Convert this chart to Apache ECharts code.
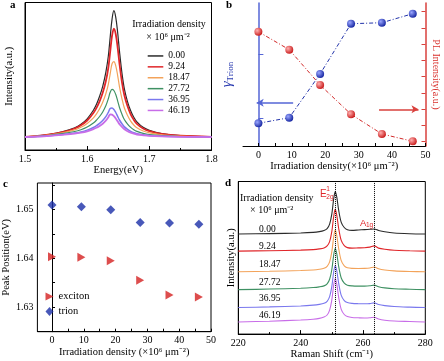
<!DOCTYPE html>
<html><head><meta charset="utf-8">
<script src="https://cdn.jsdelivr.net/npm/echarts@6/dist/echarts.min.js"></script>
<style>html,body{margin:0;padding:0;background:#fff}#c{width:444px;height:361px}</style>
</head><body><div id="c"></div>
<script>
// ---------- Panel a: PL spectra ----------
const energy = [1.50,1.52,1.54,1.56,1.58,1.59,1.60,1.61,1.615,1.62,1.625,1.63,1.634,1.637,1.640,1.643,1.646,1.649,1.652,1.656,1.66,1.665,1.67,1.675,1.68,1.69,1.70,1.72,1.75,1.80];
const densityLabels = ['0.00','9.24','18.47','27.72','36.95','46.19'];
const pl_000 = [0.5,1.5,3,5.5,9.5,13,18.5,27,33,41,51,65,81,100,118,126.6,120,105,86,64,48,35.5,26.5,20,15.5,10,7,3.8,1.8,0.6];
const pl_924 = [0.5,1.4,2.8,5.1,8.8,12,16.8,24.3,29.5,36,44.5,56,69.5,85.5,101.5,108.6,103,90,73.5,55,41.5,31,23,17.5,13.5,8.8,6.2,3.4,1.6,0.5];
const pl_1847 = [0.5,1.2,2.5,4.5,7.5,10,13.8,19.5,23.5,28.5,35,43.5,53,63.5,73.5,75.6,71.5,62,50.5,38.5,29,21.8,16.2,12.3,9.5,6.3,4.4,2.5,1.2,0.4];
const pl_2772 = [0.4,1,2,3.6,5.8,7.6,10.3,14.3,17.2,20.8,25.3,31.5,38.5,45,48,46.8,42.8,36.5,29.8,23,17.5,13.2,9.9,7.5,5.9,4,2.8,1.7,0.8,0.3];
const pl_3695 = [0.3,0.8,1.6,2.7,4.2,5.4,7.2,9.8,11.7,14,16.8,20.6,25,28.9,29.4,27.8,24.8,21,17.3,13.5,10.4,7.9,6,4.6,3.6,2.5,1.8,1.1,0.6,0.2];
const pl_4619 = [0.3,0.7,1.4,2.4,3.6,4.6,6,8.1,9.6,11.4,13.6,16.6,20,23,22.7,21.2,18.9,16,13.2,10.4,8.1,6.1,4.7,3.6,2.8,2,1.4,0.9,0.5,0.2];

// ---------- Panel b ----------
const density = [0, 9.24, 18.47, 27.72, 36.95, 46.19];
const gammaTrion = [0.917, 1.005, 1.688, 2.473, 2.489, 2.630];
const plIntensity = [7.769, 6.662, 4.489, 2.686, 1.474, 1.025];
const densityTicks = [0,10,20,30,40,50];

// ---------- Panel c ----------
const excitonPeak = [1.64034, 1.6402, 1.63952, 1.63551, 1.63245, 1.63204];
const trionPeak = [1.65095, 1.65061, 1.65, 1.64735, 1.64728, 1.64701];
const peakTicks = [1.63, 1.64, 1.65];

// ---------- Panel d: Raman spectra ----------
const raman = [220,230,240,244,246,247.5,248.5,249.3,250,250.6,251.1,251.6,252.2,253,254,255,256.5,258.5,260.5,262.2,263.6,265,267,270,275,280];
const ramanOffset = [100.7, 83.5, 62.7, 44.7, 26.7, 12.2];
const rm_000 = [0,0.4,1,1.6,2.4,3.6,5.5,10,20,35,42.6,37,24,12,6.5,4.2,3.6,4,4.4,4.7,5,3.6,2.2,1,0.3,0];
const rm_924 = [0,0.4,1,1.5,2.2,3.2,5.2,9.5,19.5,34.5,42.2,36,23,11,5.5,3.5,3,3.2,3.4,4,5.2,3,1.8,0.8,0.3,0];
const rm_1847 = [0,0.5,1.2,1.8,2.5,3.5,5.5,10,20,35,42.3,36.5,23.5,11.5,6,4,3.4,3.3,3.4,3.8,4.8,3,1.8,0.9,0.3,0];
const rm_2772 = [0,0.6,1.4,2.1,2.8,3.8,5.8,10.5,20,34.5,41.7,36,23.5,12,6.5,4.5,3.8,3.6,3.6,3.9,4.6,3,1.8,0.9,0.4,0];
const rm_3695 = [0,0.7,1.6,2.4,3.2,4.3,6.3,11,21,35.5,42.3,37,24.5,12.5,7,5,4.2,3.9,3.8,4,4.7,3,1.9,1,0.4,0];
const rm_4619 = [0,0.8,2,2.8,3.6,5,7,12,22,37,43.7,38,25,13,7.5,5.5,4.5,4.2,4,4.2,4.8,3,1.8,1,0.5,0];
const ramanPeaks = [251.1, 263.6];

const FONT = 'Liberation Serif';
const colors = ['#2b2b2b','#e0262a','#f3a35a','#3f9163','#7a78ee','#c86de8'];
const widthsA = [1.2,1.8,1.2,1.2,1.5,1.8];
const TRI_RIGHT = 'path://M0,0 L10,5 L0,10 Z';

const chart = echarts.init(document.getElementById('c'), null, {renderer:'canvas'});

function xAx(grid, min, max, extra) {
  return Object.assign({
    gridIndex: grid, type:'value', min, max,
    axisLine:{show:true, onZero:false, lineStyle:{color:'#000', width:1}},
    axisTick:{show:true, inside:true, length:4, lineStyle:{color:'#000'}},
    axisLabel:{show:true, fontFamily:FONT, fontSize:10, color:'#000', margin:4},
    splitLine:{show:false},
    nameLocation:'middle',
    nameTextStyle:{fontFamily:FONT, fontSize:10.5, color:'#000'}
  }, extra);
}

const seriesA = [pl_000, pl_924, pl_1847, pl_2772, pl_3695, pl_4619].map((arr,k)=>({
  type:'line', name: densityLabels[k], xAxisIndex:0, yAxisIndex:0,
  data: energy.map((e,i)=>[e, arr[i]]),
  smooth:0.35, showSymbol:false, symbol:'none',
  lineStyle:{color:colors[k], width:widthsA[k]}, itemStyle:{color:colors[k]}
}));

const seriesD = [rm_000, rm_924, rm_1847, rm_2772, rm_3695, rm_4619].map((arr,k)=>{
  const s = {
    type:'line', name:'d'+densityLabels[k], xAxisIndex:3, yAxisIndex:4,
    data: raman.map((r,i)=>[r, ramanOffset[k] + arr[i]]),
    smooth:0.3, showSymbol:false, symbol:'none',
    lineStyle:{color:colors[k], width:1.1}, itemStyle:{color:colors[k]}
  };
  if (k === 0) {
    s.markLine = {silent:true, symbol:'none', label:{show:false},
      lineStyle:{color:'#000', type:'dotted', width:1},
      data: ramanPeaks.map(v=>({xAxis:v}))};
  }
  return s;
});

function ball(light, dark){
  return {type:'radial', x:0.35, y:0.35, r:0.7, colorStops:[{offset:0,color:light},{offset:1,color:dark}]};
}

const option = {
  animation:false,
  backgroundColor:'#fff',
  textStyle:{fontFamily:FONT},
  grid:[
    {left:25, top:2.5, width:186.5, height:147.5, show:true, borderColor:'#000', borderWidth:1, backgroundColor:'transparent'},
    {left:243, top:3, width:182.5, height:143},
    {left:29.5, top:183, width:181.5, height:148.7, show:true, borderColor:'#000', borderWidth:1, backgroundColor:'transparent'},
    {left:238.3, top:181.5, width:187, height:153.5, show:true, borderColor:'#000', borderWidth:1, backgroundColor:'transparent'}
  ],
  xAxis:[
    xAx(0, 1.5, 1.8, {interval:0.1, minorTick:{show:true, splitNumber:2, length:2, lineStyle:{color:'#000'}},
      axisLabel:{fontFamily:FONT, fontSize:10, color:'#000', margin:4, formatter:v=>v.toFixed(1)},
      name:'Energy(eV)', nameGap:13}),
    xAx(1, -4.6, 50, {axisLabel:{fontFamily:FONT, fontSize:10, color:'#000', margin:4, customValues:densityTicks},
      axisTick:{show:true, inside:true, length:3, lineStyle:{color:'#000'}, customValues:[0,5,10,15,20,25,30,35,40,45,50]},
      name:'Irradiation density(×10⁶ μm⁻²)', nameGap:13}),
    xAx(2, -4.6, 50, {axisLabel:{fontFamily:FONT, fontSize:10, color:'#000', margin:4, customValues:densityTicks},
      axisTick:{show:true, inside:true, length:3, lineStyle:{color:'#000'}, customValues:[0,5,10,15,20,25,30,35,40,45,50]},
      name:'Irradiation density (×10⁶ μm⁻²)', nameGap:13}),
    xAx(3, 220, 280, {interval:20, minorTick:{show:true, splitNumber:2, length:2, lineStyle:{color:'#000'}},
      name:'Raman Shift (cm⁻¹)', nameGap:13})
  ],
  yAxis:[
    {gridIndex:0, type:'value', min:-12.7, max:134.8,
      axisLine:{show:true, lineStyle:{color:'#000'}}, axisTick:{show:false}, axisLabel:{show:false}, splitLine:{show:false},
      name:'Intensity(a.u.)', nameLocation:'middle', nameGap:10, nameTextStyle:{fontFamily:FONT, fontSize:10.5, color:'#000'}},
    {gridIndex:1, type:'value', position:'left', min:0.5625, max:2.797,
      axisLine:{show:true, lineStyle:{color:'#5566d6', width:1.5}},
      axisTick:{show:true, inside:true, length:5, lineStyle:{color:'#5566d6'}, customValues:[1,2]},
      axisLabel:{show:false}, splitLine:{show:false},
      name:'{g|γ}{t|Trion}', nameLocation:'middle', nameGap:8,
      nameTextStyle:{rich:{g:{fontFamily:FONT, fontSize:15, color:'#2a3bb0', fontStyle:'italic'},
                            t:{fontFamily:FONT, fontSize:9, color:'#2a3bb0', padding:[7,0,0,0]}}}},
    {gridIndex:1, type:'value', position:'right', min:0.735, max:9.535,
      axisLine:{show:true, lineStyle:{color:'#d9403c', width:1.5}},
      axisTick:{show:true, inside:true, length:4, lineStyle:{color:'#d9403c'}, customValues:[1,2,3,4,5,6,7,8,9]},
      axisLabel:{show:false}, splitLine:{show:false},
      name:'PL Intensity(a.u.)', nameLocation:'middle', nameGap:5, nameRotate:-90,
      nameTextStyle:{fontFamily:FONT, fontSize:10, color:'#d9302c'}},
    {gridIndex:2, type:'value', min:1.6249, max:1.6555,
      axisLine:{show:true, lineStyle:{color:'#000'}},
      axisTick:{show:true, inside:true, length:3, lineStyle:{color:'#000'}, customValues:[1.63,1.635,1.64,1.645,1.65,1.655]},
      axisLabel:{show:true, fontFamily:FONT, fontSize:10, color:'#000', margin:4, customValues:peakTicks, formatter:v=>v.toFixed(2)},
      splitLine:{show:false},
      name:'Peak Position(eV)', nameLocation:'middle', nameGap:19, nameTextStyle:{fontFamily:FONT, fontSize:10.5, color:'#000'}},
    {gridIndex:3, type:'value', min:0, max:153.5,
      axisLine:{show:true, lineStyle:{color:'#000'}}, axisTick:{show:false}, axisLabel:{show:false}, splitLine:{show:false},
      name:'Intensity(a.u.)', nameLocation:'middle', nameGap:2, nameTextStyle:{fontFamily:FONT, fontSize:10.5, color:'#000'}}
  ],
  legend:[
    {data:densityLabels, orient:'vertical', left:147.7, top:50.5, padding:0, itemGap:0,
      icon:'rect', itemWidth:15.6, itemHeight:1.5,
      textStyle:{fontFamily:FONT, fontSize:9.5, color:'#000', lineHeight:10.9}},
    {data:[{name:'exciton', icon:TRI_RIGHT},{name:'trion', icon:'diamond'}],
      orient:'vertical', left:45.5, top:291, padding:0, itemGap:4,
      itemWidth:8, itemHeight:9,
      textStyle:{fontFamily:FONT, fontSize:10.5, color:'#000', lineHeight:10}}
  ],
  graphic:[
    {type:'text', left:10, top:0, style:{text:'a', font:'bold 11px "Liberation Serif"', fill:'#000'}},
    {type:'text', left:226, top:0, style:{text:'b', font:'bold 11px "Liberation Serif"', fill:'#000'}},
    {type:'text', left:3, top:179, style:{text:'c', font:'bold 11px "Liberation Serif"', fill:'#000'}},
    {type:'text', left:225, top:178, style:{text:'d', font:'bold 11px "Liberation Serif"', fill:'#000'}},
    {type:'text', x:169, y:24.7, style:{text:'Irradiation density', font:'10px "Liberation Serif"', fill:'#000', align:'center', verticalAlign:'middle'}},
    {type:'text', x:168, y:37, style:{text:'× 10⁶ μm⁻²', font:'10px "Liberation Serif"', fill:'#000', align:'center', verticalAlign:'middle'}},
    {type:'text', x:240, y:198.3, style:{text:'Irradiation density', font:'10px "Liberation Serif"', fill:'#000', verticalAlign:'middle'}},
    {type:'text', x:250, y:210.5, style:{text:'× 10⁶ μm⁻²', font:'10px "Liberation Serif"', fill:'#000', verticalAlign:'middle'}},
    ...densityLabels.map((t,k)=>({type:'text', x:259, y:[229.3,246,264,282,298.7,315.3][k],
      style:{text:t, font:'9.5px "Liberation Serif"', fill:'#000', verticalAlign:'middle'}})),
    {type:'text', x:320, y:194.5, style:{text:'E', font:'10px "Liberation Sans"', fill:'#e0262a', verticalAlign:'middle'}},
    {type:'text', x:326.3, y:189.5, style:{text:'1', font:'6.5px "Liberation Sans"', fill:'#e0262a', verticalAlign:'middle'}},
    {type:'text', x:326.3, y:197, style:{text:'2g', font:'6.5px "Liberation Sans"', fill:'#e0262a', verticalAlign:'middle'}},
    {type:'text', x:360, y:223, style:{text:'A', font:'9.5px "Liberation Sans"', fill:'#e0262a', verticalAlign:'middle'}},
    {type:'text', x:366, y:225, style:{text:'1g', font:'6.5px "Liberation Sans"', fill:'#e0262a', verticalAlign:'middle'}}
  ],
  series:[
    ...seriesA,
    {type:'line', name:'γTrion', xAxisIndex:1, yAxisIndex:1,
      data: density.map((d,i)=>[d, gammaTrion[i]]),
      symbol:'circle', symbolSize:8,
      lineStyle:{color:'#2233aa', width:1, type:[4,2,1,2]},
      itemStyle:{color:ball('#9aa6ff','#1424a0')},
      markLine:{silent:true, symbol:['none','arrow'], symbolSize:[6,7], label:{show:false},
        lineStyle:{color:'#5566d6', width:1.5, type:'solid'},
        data:[[{coord:[10.4,1.239]},{coord:[-0.5,1.239]}]]}},
    {type:'line', name:'PL', xAxisIndex:1, yAxisIndex:2,
      data: density.map((d,i)=>[d, plIntensity[i]]),
      symbol:'circle', symbolSize:8,
      lineStyle:{color:'#d22a2a', width:1, type:[4,2,1,2]},
      itemStyle:{color:ball('#ffb0b0','#c81818')},
      markLine:{silent:true, symbol:['none','arrow'], symbolSize:[6,7], label:{show:false},
        lineStyle:{color:'#d9403c', width:1.5, type:'solid'},
        data:[[{coord:[36.1,2.994]},{coord:[47.9,2.994]}]]}},
    {type:'scatter', name:'exciton', xAxisIndex:2, yAxisIndex:3,
      data: density.map((d,i)=>[d, excitonPeak[i]]),
      symbol:TRI_RIGHT, symbolSize:[8,9], itemStyle:{color:'#d42020'}},
    {type:'scatter', name:'trion', xAxisIndex:2, yAxisIndex:3,
      data: density.map((d,i)=>[d, trionPeak[i]]),
      symbol:'diamond', symbolSize:9, itemStyle:{color:'#1a2ea8'}},
    ...seriesD
  ]
};
chart.setOption(option);
</script></body></html>
